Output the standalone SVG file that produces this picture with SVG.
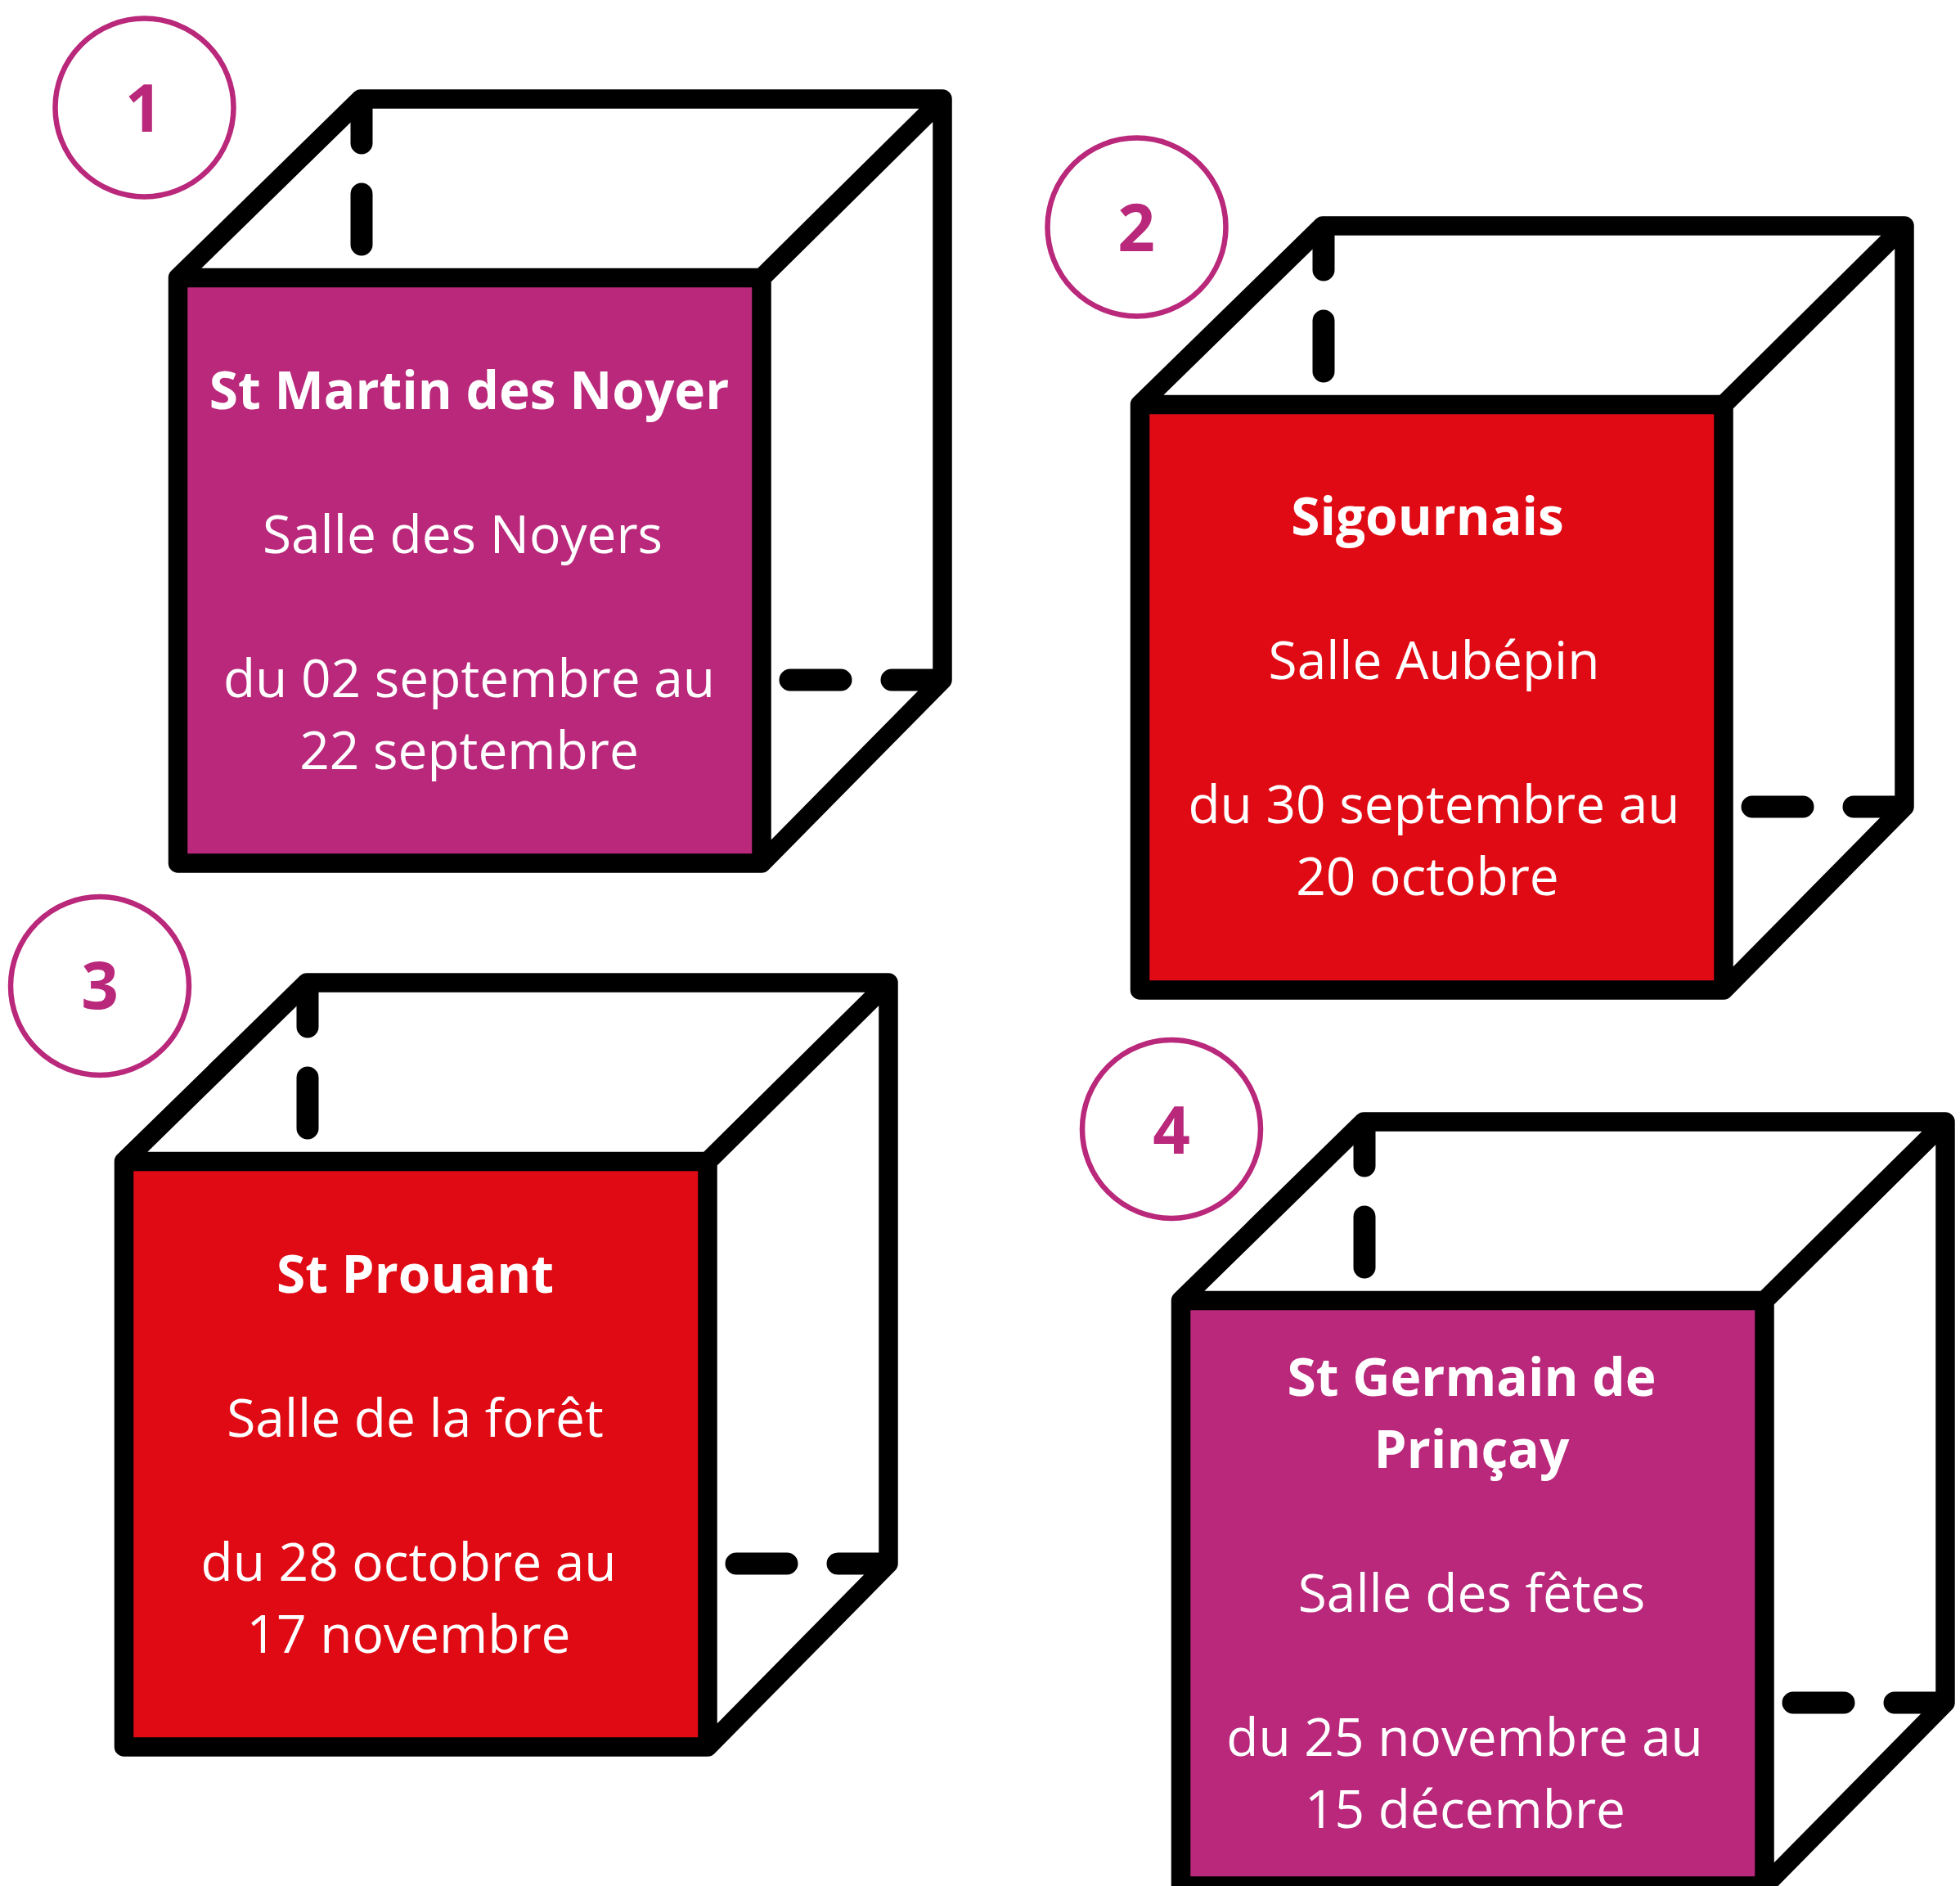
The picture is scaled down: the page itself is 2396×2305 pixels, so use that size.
<svg xmlns="http://www.w3.org/2000/svg" width="2396" height="2305" viewBox="0 0 2396 2305">
<style>
.f{stroke:#000;stroke-width:23.500;stroke-linejoin:round;stroke-linecap:round;fill:none}
.d{stroke:#000;stroke-width:27;stroke-linecap:round;fill:none}
.m{fill:#B9287A}.r{fill:#E00A15}
.c{fill:#fff;stroke:#B9287A;stroke-width:6.500}
.n{font:700 80px "Open Sans",sans-serif;fill:#B9287A;text-anchor:middle}
.t{font:400 64px "Open Sans",sans-serif;fill:#fff;text-anchor:middle}
.b{font-weight:700}
</style>
<defs>
<g id="frame">
<path class="f" d="M217.500 339.500L441 121H1152V831L931 1055H217.500ZM217.500 339.500H931V1055M931 339.500L1152 121"/>
<path class="d" d="M442 130V175M442 237V299M966 831H1028M1090 831H1146"/>
</g>
</defs>
<rect width="2396" height="2305" fill="#fff"/>
<g id="cube1">
<rect class="m" x="217.500" y="339.500" width="713.500" height="715.500"/>
<use href="#frame"/>
<circle class="c" cx="176.500" cy="131.500" r="109"/>
<text class="n" x="175.500" y="161">1</text>
<text class="t b" x="573.500" y="500">St Martin des Noyer</text>
<text class="t" x="565.500" y="676">Salle des Noyers</text>
<text class="t" x="573.500" y="852">du 02 septembre au</text>
<text class="t" x="573.500" y="940">22 septembre</text>
</g>
<g id="cube2" transform="translate(1176 155)">
<rect class="r" x="217.500" y="339.500" width="713.500" height="715.500"/>
<use href="#frame"/>
<circle class="c" cx="216.500" cy="122.500" r="109" transform="translate(-3 0)"/>
<text class="n" x="213" y="152">2</text>
<text class="t b" x="569" y="499">Sigournais</text>
<text class="t" x="577" y="675">Salle Aubépin</text>
<text class="t" x="577" y="851">du 30 septembre au</text>
<text class="t" x="569" y="939">20 octobre</text>
</g>
<g id="cube3" transform="translate(-66 1080)">
<rect class="r" x="217.500" y="339.500" width="713.500" height="715.500"/>
<use href="#frame"/>
<circle class="c" cx="188" cy="125" r="109"/>
<text class="n" x="188" y="153">3</text>
<text class="t b" x="573.500" y="500">St Prouant</text>
<text class="t" x="573.500" y="676">Salle de la forêt</text>
<text class="t" x="565.500" y="852">du 28 octobre au</text>
<text class="t" x="565.500" y="940">17 novembre</text>
</g>
<g id="cube4" transform="translate(1226 1250)">
<rect class="m" x="217.500" y="339.500" width="713.500" height="715.500"/>
<use href="#frame"/>
<circle class="c" cx="206" cy="130" r="109"/>
<text class="n" x="206" y="160">4</text>
<text class="t b" x="573" y="456">St Germain de</text>
<text class="t b" x="573" y="544">Prinçay</text>
<text class="t" x="573" y="720">Salle des fêtes</text>
<text class="t" x="564.500" y="896">du 25 novembre au</text>
<text class="t" x="565" y="984">15 décembre</text>
</g>
</svg>
